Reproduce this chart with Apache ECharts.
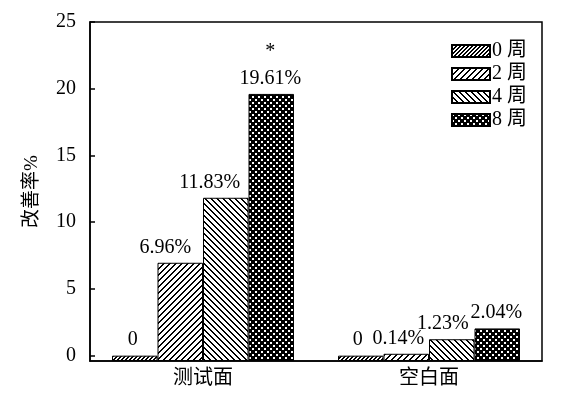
<!DOCTYPE html>
<html>
<head>
<meta charset="utf-8">
<script src="https://cdn.jsdelivr.net/npm/echarts@6/dist/echarts.min.js"></script>
<style>
  html, body { margin: 0; padding: 0; background: #fff; }
  #chart { width: 563px; height: 397px; }
</style>
</head>
<body>
<div id="chart"></div>
<script>
// 数据
const categories = ["测试面", "空白面"];
const seriesNames = ["0 周", "2 周", "4 周", "8 周"];
const week0 = [0, 0];
const week2 = [6.96, 0.14];
const week4 = [11.83, 1.23];
const week8 = [19.61, 2.04];
const marks8 = ["*", ""]; // 显著性标记
const yTicks = [0, 5, 10, 15, 20, 25];

const FONT = "'Liberation Serif', 'Noto Sans CJK SC', serif";

// 填充图案（逐像素绘制，保持清晰）
function stripes(p, w, back) {
  const c = document.createElement("canvas");
  c.width = p; c.height = p;
  const g = c.getContext("2d");
  g.fillStyle = "#fff";
  g.fillRect(0, 0, p, p);
  g.fillStyle = "#000";
  for (let x = 0; x < p; x++) {
    for (let y = 0; y < p; y++) {
      const k = back ? ((x - y) % p + p) % p : (x + y) % p;
      if (k < w) g.fillRect(x, y, 1, 1);
    }
  }
  return { image: c, repeat: "repeat" };
}
function dots() {
  const c = document.createElement("canvas");
  c.width = 6; c.height = 6;
  const g = c.getContext("2d");
  g.fillStyle = "#000";
  g.fillRect(0, 0, 6, 6);
  g.fillStyle = "#fff";
  g.fillRect(0, 0, 2, 2);
  g.fillRect(3, 3, 2, 2);
  return { image: c, repeat: "repeat" };
}
const patterns = [stripes(4, 2, false), stripes(6, 2, false), stripes(6, 2, true), dots()];
const values = [week0, week2, week4, week8];
// 标签水平微调，避免重叠
const labelShift = [[-2, -3], [-15, -8], [-16, -9], [-1, -1]];

function fmt(v) { return v === 0 ? "0" : v.toFixed(2) + "%"; }

const chart = echarts.init(document.getElementById("chart"));

const series = values.map((arr, i) => ({
  name: seriesNames[i],
  type: "bar",
  barWidth: 45.5,
  barGap: "0%",
  itemStyle: { color: patterns[i], borderColor: "#000", borderWidth: 1 },
  label: {
    show: true,
    position: "top",
    distance: 2,
    color: "#000",
    fontFamily: FONT,
    fontSize: 20
  },
  data: arr.map((v, j) => ({
    value: v,
    label: {
      offset: [labelShift[i][j], 0],
      formatter: i === 3 && marks8[j] ? marks8[j] + "\n" + fmt(v) : fmt(v),
      lineHeight: 27
    }
  }))
}));

const option = {
  animation: false,
  backgroundColor: "#fff",
  grid: {
    left: 90, right: 21, top: 22, bottom: 36,
    show: true, borderColor: "#000", borderWidth: 1.5
  },
  legend: {
    orient: "vertical",
    left: 451, top: 41,
    padding: 0,
    itemWidth: 38, itemHeight: 12,
    itemGap: 3,
    icon: "rect",
    textStyle: { fontFamily: FONT, fontSize: 20, color: "#000", padding: [0, 0, 0, -3] },
    data: seriesNames
  },
  xAxis: {
    type: "category",
    data: categories,
    axisLine: { onZero: false, lineStyle: { color: "#000", width: 1.5 } },
    axisTick: { show: false },
    axisLabel: { color: "#000", fontFamily: FONT, fontSize: 20, margin: 8 }
  },
  yAxis: {
    type: "value",
    min: -0.4, max: 25,
    startValue: -0.4,
    name: "改善率%",
    nameLocation: "middle",
    nameRotate: 90,
    nameGap: 48,
    nameTextStyle: { color: "#000", fontFamily: FONT, fontSize: 19 },
    axisLine: { show: true, lineStyle: { color: "#000", width: 1.5 } },
    axisTick: { show: true, inside: true, length: 5, customValues: yTicks, lineStyle: { color: "#000", width: 1.5 } },
    axisLabel: { color: "#000", fontFamily: FONT, fontSize: 20, margin: 14, customValues: yTicks },
    splitLine: { show: false }
  },
  series: series
};

chart.setOption(option);
</script>
</body>
</html>
